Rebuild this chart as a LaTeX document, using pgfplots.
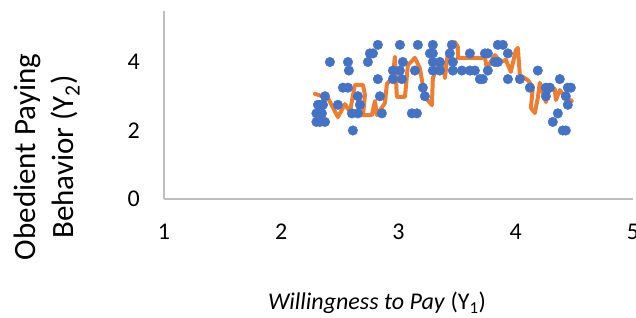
\documentclass[border=0pt]{standalone}
\usepackage{pgfplots}
\pgfplotsset{compat=1.18}
\usepackage{fontspec}
\setmainfont{Carlito}
\definecolor{xlblue}{HTML}{4472C4}
\definecolor{xlorange}{HTML}{ED7D31}
\definecolor{axgray}{HTML}{BFBFBF}
\begin{document}
\begin{tikzpicture}
\begin{axis}[
  at={(0,0)}, anchor=south west,
  scale only axis,
  width=469bp, height=188.4bp,
  xmin=1, xmax=5, ymin=0, ymax=5.5,
  xtick={1,2,3,4,5}, ytick={0,2,4},
  axis lines*=left,
  axis line style={axgray, line width=1.2bp},
  major tick length=0pt,
  /pgf/number format/assume math mode=true,
  tick label style={font=\fontsize{24bp}{28bp}\selectfont, inner sep=0pt, text=black},
  x tick label style={yshift=-25bp},
  y tick label style={xshift=-24bp},
  clip=false,
]
\addplot[only marks, mark=*, mark size=4.8bp, color=xlblue, mark options={draw=xlblue, fill=xlblue}] coordinates {
(2.824,4.5) (2.782,4.25) (2.756,4.25) (2.415,4.0) (2.569,4.0) (2.739,4.0)
(2.577,3.75) (2.824,3.5) (2.952,3.75) (2.526,3.25) (2.569,3.25) (2.841,3.0)
(2.313,2.75) (2.356,2.75) (2.483,2.75) (2.654,3.0) (2.671,2.75) (2.347,2.5)
(2.603,2.5) (2.654,2.5) (2.858,2.5) (2.330,2.25) (2.373,2.25) (2.611,2.0)
(2.373,3.0) (2.300,2.5) (2.300,2.25) (2.330,2.75)
(3.012,4.5) (3.165,4.5) (3.293,4.5) (3.455,4.5) (3.268,4.25) (3.293,4.25)
(3.438,4.25) (3.609,4.25) (3.037,4.0) (3.293,4.0) (3.353,4.0) (3.464,4.0)
(3.012,3.75) (3.140,3.75) (3.293,3.75) (3.353,3.75) (3.464,3.75) (3.540,3.75)
(3.609,3.75) (3.651,3.75) (2.952,3.5) (3.029,3.5) (3.208,3.25) (3.225,3.0)
(3.114,2.5) (3.157,2.5) (3.694,3.5)
(3.847,4.5) (3.890,4.5) (3.762,4.25) (3.737,4.25) (3.933,4.25) (3.822,4.0)
(3.847,4.0) (3.762,3.75) (3.719,3.5) (3.933,3.5) (4.035,3.5) (4.188,3.75)
(4.120,3.25) (4.257,3.25) (4.291,3.25) (4.376,3.5) (4.444,3.25) (4.470,3.25)
(4.257,3.0) (4.427,3.0) (4.444,2.75) (4.359,2.5) (4.316,2.25) (4.401,2.0)
(4.427,2.0)
};
\addplot[color=xlorange, line width=4bp, line join=round, line cap=round, mark=none] coordinates {
(2.287,3.07) (2.398,2.95) (2.483,2.39) (2.543,2.77) (2.586,2.54) (2.628,3.33)
(2.697,3.33) (2.714,3.04) (2.697,2.45) (2.773,2.45) (2.799,2.86) (2.816,2.45)
(2.884,2.80) (2.901,3.36) (2.952,3.56) (2.969,4.15) (2.986,2.98) (3.055,2.98)
(3.080,3.91) (3.140,4.12) (3.182,3.82) (3.225,2.98) (3.285,2.74) (3.293,3.53)
(3.327,3.82) (3.378,4.00) (3.396,3.53) (3.421,4.26) (3.481,4.58) (3.506,4.44)
(3.506,4.12) (3.694,4.12) (3.737,4.12) (3.754,3.82) (3.822,4.20) (3.873,4.00)
(3.916,4.06) (3.958,3.71) (4.001,4.35) (4.018,4.41) (4.035,3.62) (4.103,3.47)
(4.146,3.27) (4.129,2.66) (4.163,2.51) (4.188,2.95) (4.205,3.39) (4.231,3.12)
(4.257,2.83) (4.291,3.27) (4.333,3.21) (4.342,2.89) (4.376,3.18) (4.419,2.98)
(4.478,2.86)
};
\end{axis}
\node[rotate=90, align=center, font=\fontsize{31bp}{38bp}\selectfont, inner sep=0pt] at (-117bp,42bp) {Obedient Paying\\Behavior (Y\textsubscript{2})};
\node[font=\fontsize{24bp}{28bp}\selectfont, inner sep=0pt] at (213bp,-104bp) {\textit{Willingness to Pay} (Y\textsubscript{1})};
\pgfresetboundingbox
\path (-164bp,-119bp) rectangle (472bp,199bp);
\end{tikzpicture}
\end{document}
